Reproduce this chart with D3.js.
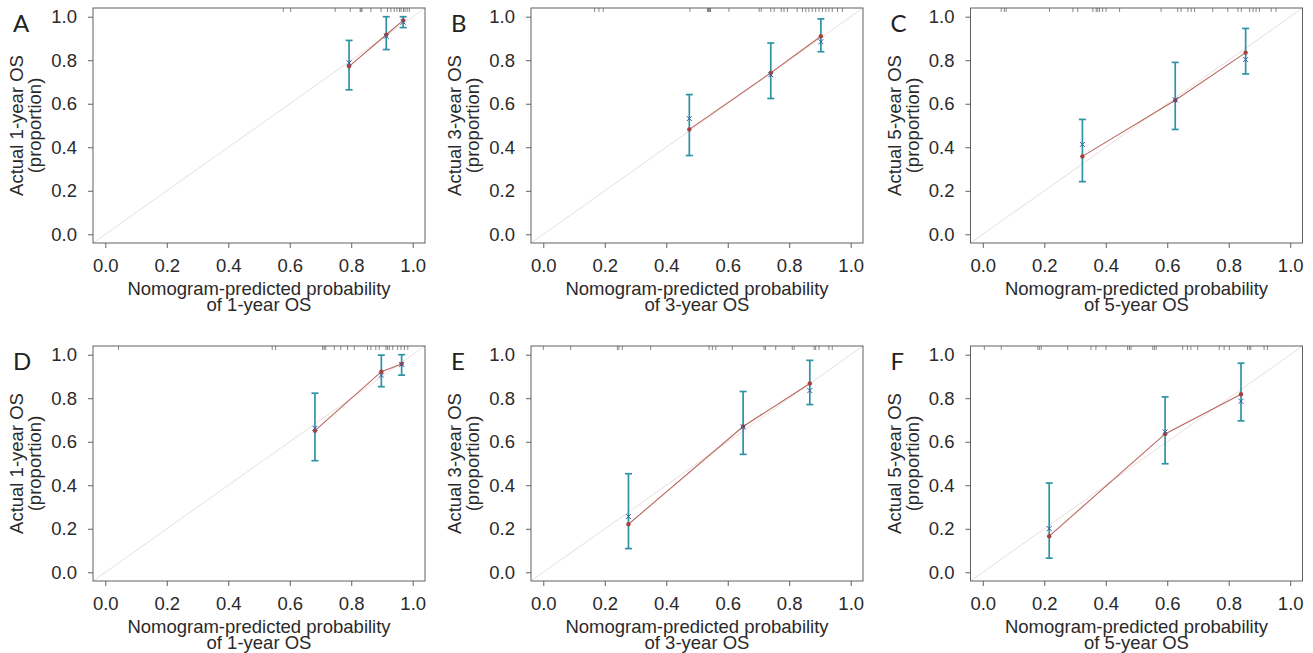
<!DOCTYPE html>
<html>
<head>
<meta charset="utf-8">
<script src="https://cdn.jsdelivr.net/npm/d3@7"></script>
<style>
  body { margin: 0; background: #fff; }
  svg { display: block; font-family: "Liberation Sans", Arial, sans-serif; }
</style>
</head>
<body>
<div id="chart"></div>
<script>
// Panel letters and time horizons
const panelLetters = ["A", "B", "C", "D", "E", "F"];
const horizons = ["1-year", "3-year", "5-year", "1-year", "3-year", "5-year"];
const tickValues = [0, 0.2, 0.4, 0.6, 0.8, 1.0];

// Mean predicted probability per group
const predicted = [
    [0.793, 0.914, 0.969],
    [0.475, 0.740, 0.903],
    [0.324, 0.626, 0.855],
    [0.682, 0.898, 0.964],
    [0.277, 0.650, 0.867],
    [0.216, 0.593, 0.840]
];
// Observed (KM) proportion, red dots joined by the line
const observed = [
    [0.772, 0.917, 0.983],
    [0.482, 0.742, 0.910],
    [0.358, 0.616, 0.835],
    [0.651, 0.922, 0.957],
    [0.221, 0.670, 0.868],
    [0.166, 0.636, 0.818]
];
// Bias-corrected estimate, blue crosses
const corrected = [
    [0.788, 0.910, 0.975],
    [0.532, 0.733, 0.885],
    [0.413, 0.618, 0.803],
    [0.662, 0.906, 0.955],
    [0.256, 0.668, 0.835],
    [0.201, 0.645, 0.786]
];
// Error bar limits
const ciLower = [
    [0.664, 0.849, 0.950],
    [0.362, 0.624, 0.839],
    [0.242, 0.482, 0.737],
    [0.513, 0.853, 0.906],
    [0.109, 0.542, 0.771],
    [0.065, 0.499, 0.696]
];
const ciUpper = [
    [0.891, 1.000, 1.000],
    [0.642, 0.879, 0.990],
    [0.528, 0.790, 0.946],
    [0.823, 0.998, 1.000],
    [0.453, 0.831, 0.974],
    [0.410, 0.806, 0.961]
];
// Rug of predicted values along the top
const rugValues = [
    [0.579, 0.603, 0.748, 0.797, 0.829, 0.832, 0.835, 0.864, 0.897, 0.918, 0.929, 0.940, 0.949, 0.957, 0.962, 0.970, 0.975, 0.982, 0.989],
    [0.167, 0.181, 0.195, 0.477, 0.534, 0.537, 0.539, 0.542, 0.544, 0.604, 0.702, 0.709, 0.740, 0.751, 0.774, 0.783, 0.794, 0.826, 0.843, 0.854, 0.864, 0.875, 0.886, 0.897, 0.908, 0.919, 0.929, 0.940, 0.957, 0.973],
    [0.060, 0.070, 0.076, 0.217, 0.293, 0.309, 0.358, 0.369, 0.374, 0.380, 0.390, 0.401, 0.445, 0.580, 0.634, 0.645, 0.667, 0.678, 0.689, 0.748, 0.797, 0.830, 0.841, 0.868, 0.879, 0.889, 0.900, 0.938, 0.954],
    [0.043, 0.543, 0.554, 0.707, 0.712, 0.717, 0.745, 0.766, 0.788, 0.810, 0.853, 0.864, 0.880, 0.891, 0.913, 0.918, 0.924, 0.935, 0.951, 0.962, 0.973, 0.984],
    [0.000, 0.089, 0.241, 0.246, 0.257, 0.349, 0.539, 0.550, 0.561, 0.615, 0.718, 0.723, 0.756, 0.810, 0.816, 0.881, 0.886, 0.897, 0.929, 0.940],
    [0.005, 0.060, 0.179, 0.184, 0.190, 0.276, 0.352, 0.368, 0.401, 0.471, 0.477, 0.482, 0.553, 0.558, 0.564, 0.650, 0.666, 0.677, 0.699, 0.769, 0.785, 0.802, 0.861, 0.867, 0.872, 0.915, 0.926]
];

// Layout
const width = 1313, height = 653;
const colLeft = [93, 531, 970.5];
const rowTop = [8, 346];
const boxW = 332, boxH = 235;
const fontSize = 18.5;

const svg = d3.select("#chart")
    .append("svg")
    .attr("width", width)
    .attr("height", height);

panelLetters.forEach((letter, i) => {
    const left = colLeft[i % 3];
    const top = rowTop[Math.floor(i / 3)];
    const x = d3.scaleLinear().domain([-0.04, 1.04]).range([left, left + boxW]);
    const y = d3.scaleLinear().domain([-0.04, 1.04]).range([top + boxH, top]);
    const g = svg.append("g");

    // ideal line
    g.append("line")
        .attr("x1", x(-0.04)).attr("y1", y(-0.04))
        .attr("x2", x(1.04)).attr("y2", y(1.04))
        .attr("stroke", "#eadede")
        .attr("stroke-width", 1);

    // rug
    g.selectAll(".rug")
        .data(rugValues[i])
        .join("line")
        .attr("x1", d => x(d)).attr("x2", d => x(d))
        .attr("y1", top).attr("y2", top + 4)
        .attr("stroke", "#555")
        .attr("stroke-width", 0.7);

    const pts = predicted[i].map((p, j) => ({
        p: p, obs: observed[i][j], cor: corrected[i][j], lo: ciLower[i][j], hi: ciUpper[i][j]
    }));

    // calibration line
    g.append("path")
        .datum(pts)
        .attr("fill", "none")
        .attr("stroke", "#b8685c")
        .attr("stroke-width", 1.1)
        .attr("d", d3.line().x(d => x(d.p)).y(d => y(d.obs)));

    // error bars
    const bars = g.selectAll(".bar").data(pts).join("g").attr("stroke", "#2f93a6").attr("stroke-width", 1.7);
    bars.append("line")
        .attr("x1", d => x(d.p)).attr("x2", d => x(d.p))
        .attr("y1", d => y(d.lo)).attr("y2", d => y(d.hi));
    bars.append("line")
        .attr("x1", d => x(d.p) - 3.5).attr("x2", d => x(d.p) + 3.5)
        .attr("y1", d => y(d.lo)).attr("y2", d => y(d.lo));
    bars.append("line")
        .attr("x1", d => x(d.p) - 3.5).attr("x2", d => x(d.p) + 3.5)
        .attr("y1", d => y(d.hi)).attr("y2", d => y(d.hi));

    // observed dots
    g.selectAll(".dot").data(pts).join("circle")
        .attr("cx", d => x(d.p)).attr("cy", d => y(d.obs))
        .attr("r", 2.2)
        .attr("fill", "#a8403e");

    // bias-corrected crosses
    g.selectAll(".cross").data(pts).join("path")
        .attr("d", d => {
            const cx = x(d.p), cy = y(d.cor), s = 2.5;
            return `M${cx - s},${cy - s}L${cx + s},${cy + s}M${cx - s},${cy + s}L${cx + s},${cy - s}`;
        })
        .attr("stroke", "#3560a0")
        .attr("stroke-width", 1);

    // box
    g.append("rect")
        .attr("x", left).attr("y", top)
        .attr("width", boxW).attr("height", boxH)
        .attr("fill", "none")
        .attr("stroke", "#606060")
        .attr("stroke-width", 1);

    // x axis
    g.append("g")
        .attr("transform", `translate(0,${top + boxH})`)
        .call(d3.axisBottom(x).tickValues(tickValues).tickFormat(d3.format(".1f")).tickSize(5).tickPadding(11))
        .call(a => a.select(".domain").remove())
        .call(a => a.selectAll("line").attr("stroke", "#606060"))
        .call(a => a.selectAll("text").attr("fill", "#2a2a2a").attr("font-size", fontSize).attr("font-family", "Liberation Sans, Arial, sans-serif"));

    // y axis
    g.append("g")
        .attr("transform", `translate(${left},0)`)
        .call(d3.axisLeft(y).tickValues(tickValues).tickFormat(d3.format(".1f")).tickSize(5).tickPadding(11))
        .call(a => a.select(".domain").remove())
        .call(a => a.selectAll("line").attr("stroke", "#606060"))
        .call(a => a.selectAll("text").attr("fill", "#2a2a2a").attr("font-size", fontSize).attr("font-family", "Liberation Sans, Arial, sans-serif"));

    // x axis title
    const xt = g.append("text")
        .attr("text-anchor", "middle")
        .attr("fill", "#2a2a2a")
        .attr("font-size", fontSize);
    xt.append("tspan").attr("x", x(0.5)).attr("y", top + boxH + 52).text("Nomogram-predicted probability");
    xt.append("tspan").attr("x", x(0.5)).attr("y", top + boxH + 68).text(`of ${horizons[i]} OS`);

    // y axis title
    const yt = g.append("text")
        .attr("text-anchor", "middle")
        .attr("fill", "#2a2a2a")
        .attr("font-size", fontSize)
        .attr("transform", `translate(${left - 70},${y(0.5)}) rotate(-90)`);
    yt.append("tspan").attr("x", 0).attr("y", 0).text(`Actual ${horizons[i]} OS`);
    yt.append("tspan").attr("x", 0).attr("y", 18).text("(proportion)");

    // panel letter
    g.append("text")
        .attr("x", left - 80)
        .attr("y", top + 24)
        .attr("fill", "#222")
        .attr("font-size", 24)
        .attr("font-family", "Lato, sans-serif")
        .text(letter);
});
</script>
</body>
</html>
